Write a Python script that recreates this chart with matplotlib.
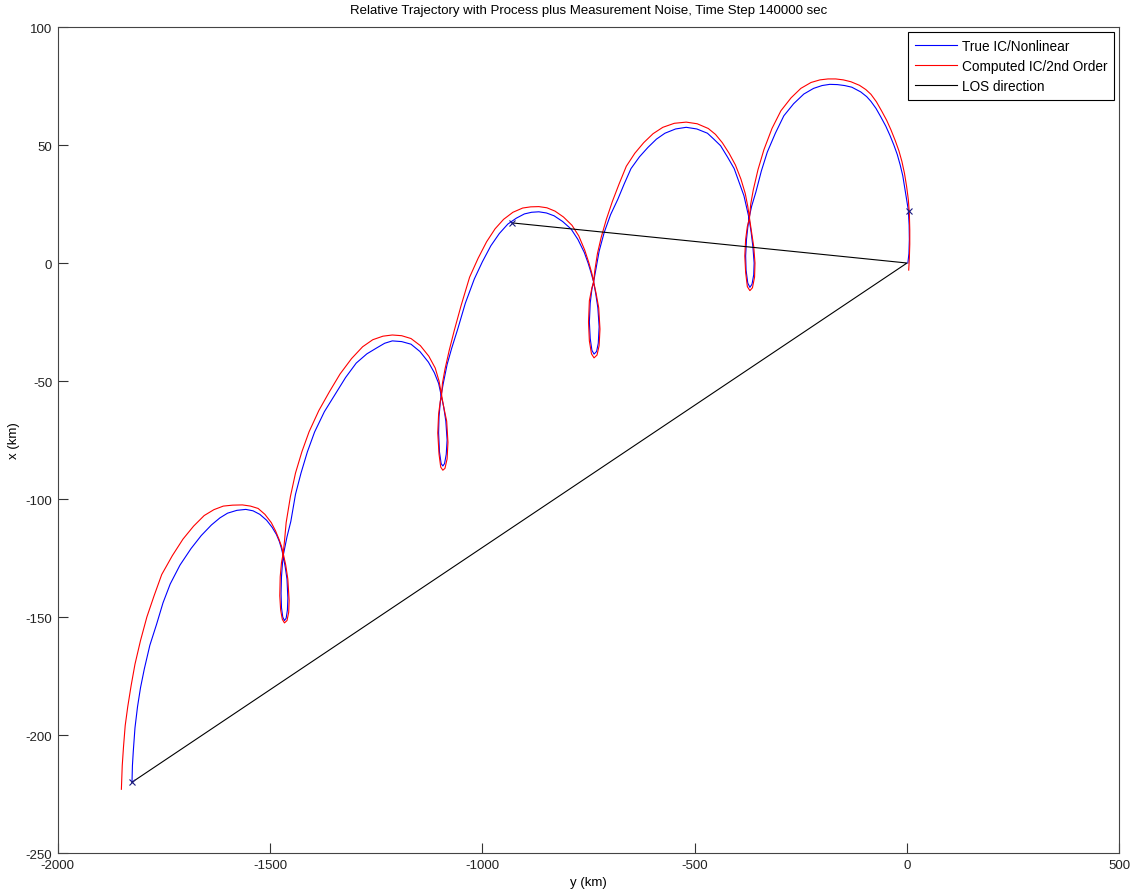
import matplotlib.pyplot as plt
import numpy as np

# relative trajectory, horizontal = y (km), vertical = x (km)
true_y = [-1825, -1824, -1822, -1818, -1812, -1805, -1796, -1783, -1767, -1752,
          -1735, -1712, -1686, -1662, -1638, -1618, -1600, -1578, -1557, -1540,
          -1524, -1508, -1495, -1485, -1478, -1473, -1469,
          -1464, -1460, -1458, -1459, -1462, -1466, -1470, -1473, -1474, -1473,
          -1471, -1469,
          -1460, -1451, -1440, -1427, -1412, -1395, -1372, -1346, -1322, -1297,
          -1272, -1249, -1230, -1212, -1190, -1168, -1147, -1127, -1113, -1103,
          -1097,
          -1091, -1086, -1083, -1085, -1089, -1093, -1097, -1101, -1103, -1102,
          -1099, -1097,
          -1092, -1083, -1072, -1058, -1040, -1019, -1000, -980, -960, -940,
          -920, -901, -884, -867, -849, -831, -811, -791, -775, -760,
          -751, -745, -738,
          -733, -728, -725, -727, -731, -737, -742, -746, -748, -746,
          -742, -738,
          -732, -725, -713, -698, -681, -666, -650, -630, -610, -590,
          -570, -545, -520, -495, -470, -455, -439, -423, -407, -395,
          -384, -377, -372,
          -367, -363, -360, -361, -365, -370, -375, -379, -380, -378,
          -375, -372,
          -366, -356, -343, -329, -310, -290, -267, -243, -220, -200,
          -182, -164, -147, -130, -109, -95, -85, -73, -62, -50,
          -40, -31, -23, -16, -10, -5, -1, 3, 5, 5.5,
          4.5, 2]
true_x = [-220, -213, -207, -197, -188, -180, -172, -162, -153, -144,
          -136, -128, -121, -115.5, -111, -108, -106, -104.8, -104.4, -105,
          -106.5, -109, -112, -115, -118, -121, -124,
          -129, -134, -142, -147, -150.5, -151.5, -150, -146, -140, -133,
          -128, -124,
          -116, -109.5, -98, -89, -80, -71.6, -63, -55.5, -48.5, -42.4,
          -38.5, -36, -34, -33, -33.3, -34.4, -37.5, -42, -46.5, -51,
          -56,
          -61, -67, -75, -81, -85, -86, -85, -80, -72, -65,
          -59, -56,
          -51, -43, -36, -28, -17, -6.8, 0.5, 7.3, 12.5, 16.5,
          19, 20.8, 21.5, 21.7, 21.2, 20, 17.6, 14.4, 10, 4.5,
          0, -3.5, -8,
          -13, -19, -27, -34, -37.5, -38.6, -37, -32, -25, -17,
          -11, -8,
          -2, 5, 13, 20.5, 27, 33.5, 40, 45, 49, 52.5,
          55, 56.8, 57.5, 56.8, 55, 52.5, 49.7, 45, 40, 34,
          28.5, 23, 19,
          13, 7, 0, -5, -9, -10.3, -8.5, -3, 3, 10,
          15, 19,
          24, 30, 39, 47, 55, 62.4, 67.5, 71.6, 74, 75.2,
          75.7, 75.6, 75.2, 74.5, 72.5, 70.5, 68.5, 65.5, 62, 58,
          54, 50, 46, 41.5, 37, 31.5, 27, 22.5, 16, 10,
          4, 0]

est_y = [-1850, -1848, -1845, -1841, -1835, -1827, -1818, -1805, -1790, -1773,
         -1755, -1730, -1705, -1680, -1655, -1632, -1610, -1588, -1565, -1546,
         -1528, -1512, -1497, -1487, -1479, -1473, -1469,
         -1463, -1458, -1455, -1456, -1460, -1466, -1471, -1475, -1477, -1476,
         -1473, -1469,
         -1466, -1462, -1452, -1440, -1425, -1408, -1385, -1360, -1335, -1308,
         -1282, -1258, -1234, -1212, -1190, -1168, -1146, -1126, -1111, -1102,
         -1096,
         -1091, -1084, -1081, -1083, -1088, -1093, -1098, -1102, -1105, -1103,
         -1099, -1096,
         -1094, -1088, -1078, -1066, -1050, -1030, -1010, -990, -970, -950,
         -928, -905, -886, -867, -848, -829, -809, -789, -773, -759,
         -749, -742, -738,
         -732, -726, -723, -725, -730, -737, -743, -748, -750, -748,
         -742, -738,
         -735, -729, -720, -708, -694, -678, -661, -641, -620, -598,
         -575, -548, -520, -494, -468, -451, -435, -419, -404, -391,
         -381, -375, -371,
         -366, -361, -358, -359, -364, -370, -376, -380, -382, -380,
         -376, -371,
         -368, -362, -351, -337, -318, -297, -273, -250, -226, -205,
         -186, -168, -150, -132, -112, -97, -85, -72, -60, -48,
         -38, -28, -19, -12, -6, -1, 3, 5.5, 6.5, 6.5,
         5.5, 4]
est_x = [-223, -213, -205, -196, -188, -179, -170, -160, -150, -141,
         -132, -124, -117, -111.5, -107, -104.5, -103, -102.6, -102.5, -103,
         -104, -106.5, -110, -113.5, -117, -120, -123,
         -128, -134, -143, -148, -151.5, -152.5, -151, -147, -141, -133,
         -127, -123,
         -118, -110, -99, -89, -80, -71.5, -62.5, -54.5, -47, -40.5,
         -35.5, -32.5, -31, -30.5, -30.8, -32, -35, -39.5, -44.5, -50,
         -56,
         -61, -67, -76, -83, -87, -87.8, -86.5, -81, -72, -64,
         -58.5, -56,
         -51, -45, -37, -28.5, -18, -6, 2, 9, 14.5, 18.5,
         21.5, 23.3, 23.8, 23.9, 23.4, 22, 19.5, 16, 11.5, 5.5,
         0, -4.5, -8,
         -13, -19, -28, -35, -39, -40.2, -38.5, -33, -25, -16,
         -10.5, -8,
         -3, 4, 11, 18.5, 26, 33.5, 41, 46.5, 51, 54.8,
         57.5, 59.2, 59.7, 59, 57, 54.5, 51, 46.5, 41.5, 35.5,
         29.5, 24, 19,
         13, 7, 0, -6, -10.5, -11.7, -10, -4, 3, 10,
         15.5, 19,
         25, 31, 39.5, 48, 57, 64.5, 70, 74, 76.5, 77.6,
         78, 78, 77.6, 76.8, 75.3, 73.5, 71.5, 68.3, 64.5, 60.5,
         56.5, 52, 47.5, 43, 38, 32.5, 27, 21, 14, 8,
         2, -3]

# line of sight from the origin to the two sighting points
los_y = [-930, 0, -1825]
los_x = [17, 0, -220]
mark_y = [-1825, -930, 4]
mark_x = [-220, 17, 22.2]

plt.rcParams['font.family'] = ['Liberation Sans', 'DejaVu Sans']
plt.rcParams['font.size'] = 9.5
plt.rcParams['axes.unicode_minus'] = False

fig = plt.figure(figsize=(11.31, 8.95), dpi=100)
ax = fig.add_axes([0.051, 0.0458, 0.9387, 0.9229])

ax.plot(true_y, true_x, color='#0000ff', lw=0.8, label='True IC/Nonlinear')
ax.plot(est_y, est_x, color='#ff0000', lw=0.8, label='Computed IC/2nd Order')
ax.plot(los_y, los_x, color='black', lw=0.8, label='LOS direction')
ax.plot(mark_y, mark_x, ls='none', marker='x', ms=4, mew=0.8, color='#1a1a80')

ax.set_xlim(-2000, 500)
ax.set_ylim(-250, 100)
ax.set_xticks(np.arange(-2000, 501, 500))
ax.set_yticks(np.arange(-250, 101, 50))
ax.tick_params(direction='in', length=7.5, width=0.8, colors='#333333',
               labelcolor='#222222', labelsize=9.5, pad=4)
for s in ax.spines.values():
    s.set_color('#444444')
    s.set_linewidth(0.8)

ax.set_xlabel('y (km)', labelpad=4)
ax.set_ylabel('x (km)', labelpad=4)
ax.set_title('Relative Trajectory with Process plus Measurement Noise, Time Step 140000 sec',
             fontsize=9.5, pad=10)

leg = ax.legend(loc='upper right', fancybox=False, framealpha=1, edgecolor='black',
                handlelength=3.1, handletextpad=0.35, borderpad=0.5,
                labelspacing=0.42, borderaxespad=0.4, fontsize=9.8)
leg.get_frame().set_linewidth(0.8)

fig.savefig('out.png', dpi=100, facecolor='white')
